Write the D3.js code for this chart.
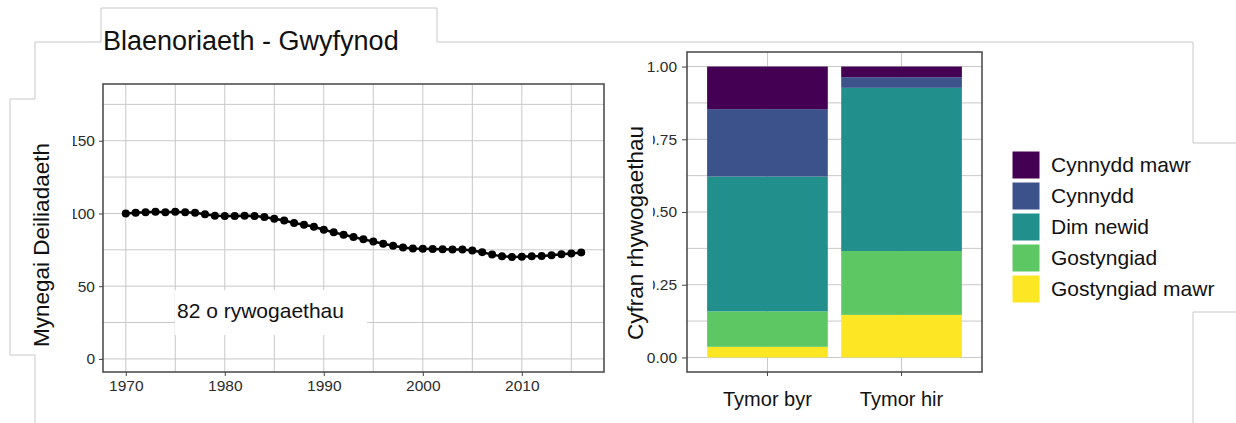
<!DOCTYPE html>
<html>
<head>
<meta charset="utf-8">
<script src="https://cdn.jsdelivr.net/npm/d3@7"></script>
<style>
  body { margin: 0; background: #fff; }
  svg { display: block; font-family: "Liberation Sans", Arial, sans-serif; }
  .grid line { stroke: #c8c8c8; stroke-width: 1; }
  .tick text { fill: #2b2b2b; font-size: 15.5px; }
</style>
</head>
<body>
<div id="chart"></div>
<script>
const W = 1236, H = 423;

// left chart: index over time
const years = d3.range(1970, 2017);
const index = [100, 100.5, 100.9, 101.1, 100.9, 101.1, 100.9, 100.5, 99.4, 98.5,
  98.2, 98.2, 98.4, 98.2, 97.5, 96.3, 95.1, 93.5, 92.3, 90.8,
  88.8, 87.0, 85.4, 83.8, 82.2, 80.7, 79.2, 77.8, 76.6, 75.9,
  75.7, 75.5, 75.4, 75.3, 75.2, 74.5, 73.4, 71.7, 70.5, 70.1,
  70.3, 70.6, 70.8, 71.2, 72.0, 72.5, 73.2];
const xTicks = [1970, 1980, 1990, 2000, 2010];
const yTicks = [0, 50, 100, 150];

// right chart: species counts per trend class
const periods = ["Tymor byr", "Tymor hir"];
const classes = ["Cynnydd mawr", "Cynnydd", "Dim newid", "Gostyngiad", "Gostyngiad mawr"];
const shortTerm = [12, 19, 38, 10, 3];
const longTerm = [3, 3, 46, 18, 12];
const classColours = ["#440154", "#3b528b", "#21908c", "#5dc863", "#fde725"];
const propTicks = [0, 0.25, 0.5, 0.75, 1];

const svg = d3.select("#chart").append("svg")
  .attr("width", W).attr("height", H);

// ---- left panel
const L = {x0: 103, x1: 604, y0: 84, y1: 372};
const x = d3.scaleLinear().domain([1967.7, 2018.3]).range([L.x0, L.x1]);
const y = d3.scaleLinear().domain([-9, 189]).range([L.y1, L.y0]);

const gl = svg.append("g");
gl.append("g").attr("class", "grid")
  .selectAll("line").data(d3.range(1970, 2018, 5)).join("line")
  .attr("x1", d => x(d)).attr("x2", d => x(d)).attr("y1", L.y0).attr("y2", L.y1);
gl.append("g").attr("class", "grid")
  .selectAll("line").data(d3.range(0, 190, 25)).join("line")
  .attr("y1", d => y(d)).attr("y2", d => y(d)).attr("x1", L.x0).attr("x2", L.x1);

gl.append("path")
  .datum(years.map((yr, i) => [yr, index[i]]))
  .attr("fill", "none").attr("stroke", "#000").attr("stroke-width", 2.5)
  .attr("d", d3.line().x(d => x(d[0])).y(d => y(d[1])));
gl.selectAll("circle").data(years).join("circle")
  .attr("cx", d => x(d)).attr("cy", (d, i) => y(index[i])).attr("r", 4).attr("fill", "#000");

// label box
gl.append("rect").attr("x", 175).attr("y", 290).attr("width", 192).attr("height", 45).attr("fill", "#fff");
gl.append("text").attr("x", 177).attr("y", 318).attr("font-size", 21).attr("fill", "#111")
  .text("82 o rywogaethau");

gl.append("rect").attr("x", L.x0).attr("y", L.y0).attr("width", L.x1 - L.x0).attr("height", L.y1 - L.y0)
  .attr("fill", "none").attr("stroke", "#444").attr("stroke-width", 1.5);

gl.append("g").attr("transform", `translate(0,${L.y1})`)
  .call(d3.axisBottom(x).tickValues(xTicks).tickFormat(d3.format("d")).tickSize(4).tickPadding(4))
  .call(g => g.select(".domain").remove())
  .call(g => g.selectAll(".tick line").attr("stroke", "#444"));
gl.append("g").attr("transform", `translate(${L.x0},0)`)
  .call(d3.axisLeft(y).tickValues(yTicks).tickSize(4).tickPadding(4))
  .call(g => g.select(".domain").remove())
  .call(g => g.selectAll(".tick line").attr("stroke", "#444"));

// clipped strip over the long tick labels
gl.append("rect").attr("x", 11).attr("y", 100).attr("width", 62).attr("height", 254).attr("fill", "#fff");

gl.append("text")
  .attr("transform", "translate(49,245) rotate(-90)")
  .attr("text-anchor", "middle").attr("font-size", 22.5).attr("fill", "#111")
  .text("Mynegai Deiliadaeth");

// ---- right panel
const R = {x0: 687, x1: 982, y0: 52, y1: 372};
const xb = d3.scaleBand().domain(periods).range([R.x0, R.x1]).paddingInner(0.1).paddingOuter(0.15);
const yp = d3.scaleLinear().domain([-0.05, 1.05]).range([R.y1, R.y0]);

const gr = svg.append("g");
gr.append("g").attr("class", "grid")
  .selectAll("line").data(d3.range(0, 1.01, 0.125)).join("line")
  .attr("y1", d => yp(d)).attr("y2", d => yp(d)).attr("x1", R.x0).attr("x2", R.x1);
gr.append("g").attr("class", "grid")
  .selectAll("line").data(periods).join("line")
  .attr("x1", d => xb(d) + xb.bandwidth() / 2).attr("x2", d => xb(d) + xb.bandwidth() / 2)
  .attr("y1", R.y0).attr("y2", R.y1);

const rows = periods.map((p, i) => {
  const vals = i === 0 ? shortTerm : longTerm;
  const total = d3.sum(vals);
  const row = {period: p};
  classes.forEach((c, j) => row[c] = vals[j] / total);
  return row;
});
// stack from the bottom: last class first
const stack = d3.stack().keys(classes.slice().reverse())(rows);
const colour = d3.scaleOrdinal().domain(classes).range(classColours);

gr.selectAll("g.layer").data(stack).join("g").attr("class", "layer")
  .attr("fill", d => colour(d.key))
  .selectAll("rect").data(d => d).join("rect")
  .attr("x", d => xb(d.data.period)).attr("width", xb.bandwidth())
  .attr("y", d => yp(d[1])).attr("height", d => yp(d[0]) - yp(d[1]));

gr.append("rect").attr("x", R.x0).attr("y", R.y0).attr("width", R.x1 - R.x0).attr("height", R.y1 - R.y0)
  .attr("fill", "none").attr("stroke", "#444").attr("stroke-width", 1.5);

gr.append("g").attr("transform", `translate(0,${R.y1})`)
  .call(d3.axisBottom(xb).tickSize(4).tickPadding(16))
  .call(g => g.select(".domain").remove())
  .call(g => g.selectAll(".tick line").attr("stroke", "#444"))
  .call(g => g.selectAll(".tick text").style("font-size", "20px").style("fill", "#111"));
gr.append("g").attr("transform", `translate(${R.x0},0)`)
  .call(d3.axisLeft(yp).tickValues(propTicks).tickFormat(d3.format(".2f")).tickSize(5).tickPadding(5))
  .call(g => g.select(".domain").remove())
  .call(g => g.selectAll(".tick line").attr("stroke", "#444"));

gr.append("rect").attr("x", 610).attr("y", 78).attr("width", 43).attr("height", 268).attr("fill", "#fff");

gr.append("text")
  .attr("transform", "translate(643,233) rotate(-90)")
  .attr("text-anchor", "middle").attr("font-size", 22.5).attr("fill", "#111")
  .text("Cyfran rhywogaethau");

// legend
const lg = svg.append("g").attr("transform", "translate(1012,151)");
const item = lg.selectAll("g").data(classes).join("g")
  .attr("transform", (d, i) => `translate(0,${i * 31})`);
item.append("rect").attr("width", 28).attr("height", 28)
  .attr("fill", d => colour(d)).attr("stroke", "#fff").attr("stroke-width", 1);
item.append("text").attr("x", 39).attr("y", 14).attr("dy", "0.35em")
  .attr("font-size", 21).attr("fill", "#111").text(d => d);

// title
svg.append("text").attr("x", 103).attr("y", 50).attr("font-size", 27).attr("fill", "#111")
  .text("Blaenoriaeth - Gwyfynod");

// outline of the pasted panels
const outline = svg.append("g").attr("fill", "none").attr("stroke", "#c8c8c8").attr("stroke-width", 1);
outline.append("path").attr("d", d3.line()([[10, 355], [10, 99], [35, 99], [35, 42], [101, 42], [101, 8],
  [437, 8], [437, 42], [1193, 42], [1193, 143], [1236, 143]]));
outline.append("path").attr("d", d3.line()([[10, 355], [35, 355], [35, 423]]));
outline.append("path").attr("d", d3.line()([[1236, 312], [1193, 312], [1193, 423]]));
</script>
</body>
</html>
